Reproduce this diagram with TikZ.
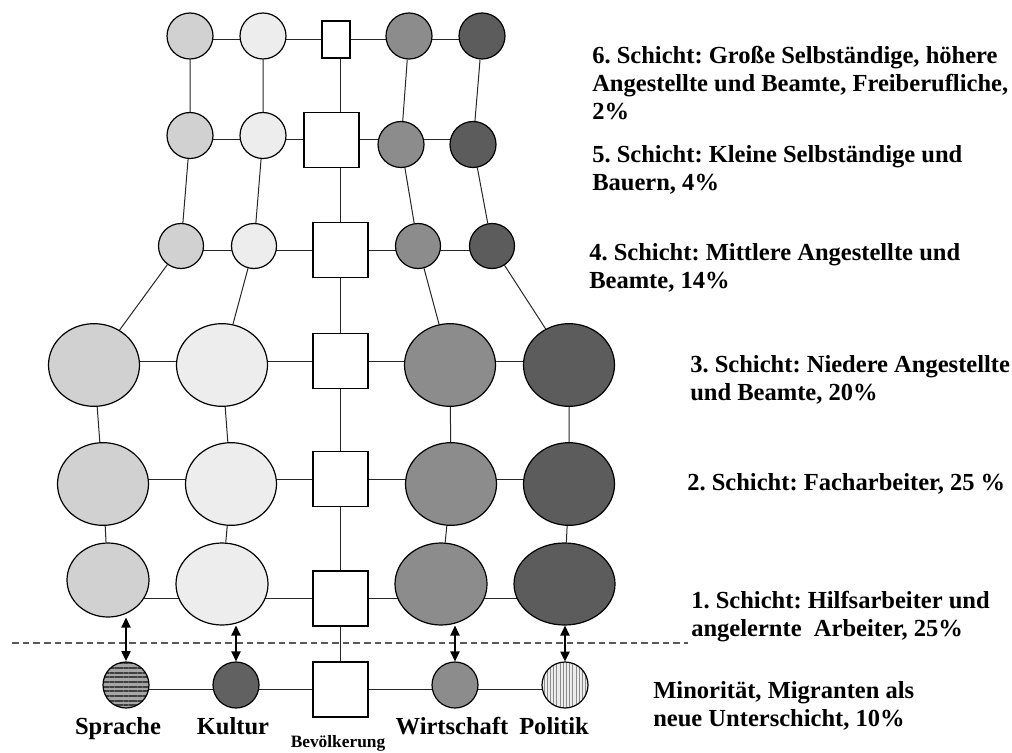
\documentclass[tikz,border=0pt]{standalone}
\usepackage{fontspec}
\setmainfont{Liberation Serif}
\usetikzlibrary{arrows.meta}
\usetikzlibrary{shapes.geometric}
\usetikzlibrary{patterns.meta}
\usetikzlibrary{backgrounds}
\frenchspacing

\definecolor{fillsp}{gray}{0.82}
\definecolor{fillku}{gray}{0.93}
\definecolor{fillwi}{gray}{0.55}
\definecolor{fillpo}{gray}{0.36}
\definecolor{linegray}{gray}{0.15}

\begin{document}
\begin{tikzpicture}[x=0.75pt, y=-0.75pt,
  ball/.style={circle, draw, line width=0.9pt, inner sep=0pt, minimum size=34.5pt},
  oval/.style={ellipse, draw, line width=0.9pt, inner sep=0pt, minimum width=68.25pt, minimum height=62pt},
  box/.style={rectangle, draw, line width=0.9pt, fill=white, inner sep=0pt, minimum size=41.25pt},
  schicht/.style={anchor=north west, inner sep=0pt, align=left, font=\fontsize{18.4}{21}\selectfont\bfseries},
  lbl/.style={anchor=base, inner sep=0pt, font=\fontsize{18.4}{21}\selectfont\bfseries},
  link/.style={draw=linegray, line width=0.75pt},
  twoway/.style={{Triangle[length=7.5pt,width=7pt]}-{Triangle[length=7.5pt,width=7pt]}, line width=1pt}
]
  \useasboundingbox (0,0) rectangle (1012,752);

  % 6. Schicht
  \node[ball, fill=fillsp] (sp6) at (190,36) {};
  \node[ball, fill=fillku] (ku6) at (263,36) {};
  \node[box, minimum width=21pt, minimum height=27.75pt] (bv6) at (336,39.5) {};
  \node[ball, fill=fillwi] (wi6) at (409,36) {};
  \node[ball, fill=fillpo] (po6) at (482,36) {};

  % 5. Schicht
  \node[ball, fill=fillsp] (sp5) at (190,135.5) {};
  \node[ball, fill=fillku] (ku5) at (263,135.5) {};
  \node[box] (bv5) at (331.5,140) {};
  \node[ball, fill=fillwi] (wi5) at (401,144.5) {};
  \node[ball, fill=fillpo] (po5) at (473,144.5) {};

  % 4. Schicht
  \node[ball, fill=fillsp, minimum size=33.75pt] (sp4) at (181,246) {};
  \node[ball, fill=fillku, minimum size=33.75pt] (ku4) at (254,246) {};
  \node[box] (bv4) at (340.5,250) {};
  \node[ball, fill=fillwi, minimum size=33.75pt] (wi4) at (418,246) {};
  \node[ball, fill=fillpo, minimum size=33.75pt] (po4) at (492,246) {};

  % 3. Schicht
  \node[oval, fill=fillsp] (sp3) at (94,365) {};
  \node[oval, fill=fillku] (ku3) at (222,365) {};
  \node[box] (bv3) at (340.5,361) {};
  \node[oval, fill=fillwi] (wi3) at (450,365) {};
  \node[oval, fill=fillpo] (po3) at (569,365) {};

  % 2. Schicht
  \node[oval, fill=fillsp] (sp2) at (103,484) {};
  \node[oval, fill=fillku] (ku2) at (231,484) {};
  \node[box] (bv2) at (340.5,479) {};
  \node[oval, fill=fillwi] (wi2) at (451,484) {};
  \node[oval, fill=fillpo] (po2) at (569,484) {};

  % 1. Schicht
  \node[oval, fill=fillsp, minimum width=61.5pt, minimum height=55.5pt] (sp1) at (108,580) {};
  \node[oval, fill=fillku, minimum width=69pt, minimum height=61.5pt] (ku1) at (222,584) {};
  \node[box] (bv1) at (340.5,598.5) {};
  \node[oval, fill=fillwi, minimum width=69pt, minimum height=61.5pt] (wi1) at (441,584) {};
  \node[oval, fill=fillpo, minimum width=75.75pt, minimum height=61.5pt] (po1) at (564.5,584) {};

  % Minoritaet
  \node[ball, preaction={fill=gray!70}, pattern={Lines[angle=0,distance=3.5pt,line width=1.5pt]}, pattern color=black!75] (sp0) at (126,685) {};
  \node[ball, fill=black!62] (ku0) at (236,685) {};
  \node[box] (bv0) at (340.5,689.5) {};
  \node[ball, fill=fillwi] (wi0) at (455,685) {};
  \node[ball, preaction={fill=gray!15}, pattern={Lines[angle=90,distance=2.4pt,line width=0.7pt]}, pattern color=gray!90] (po0) at (565,685) {};

  \node[lbl] (lsp) at (118,734) {Sprache};
  \node[lbl] (lku) at (233,734) {Kultur};
  \node[lbl, font=\fontsize{13}{15}\selectfont\bfseries] (lbv) at (338,747) {Bevölkerung};
  \node[lbl] (lwi) at (452,734) {Wirtschaft};
  \node[lbl] (lpo) at (554,734) {Politik};

  % Schichten
  \node[schicht] (t6) at (592,45.5) {6. Schicht: Große Selbständige, höhere\\Angestellte und Beamte, Freiberufliche,\\2\%};
  \node[schicht] (t5) at (592,145.5) {5. Schicht: Kleine Selbständige und\\Bauern, 4\%};
  \node[schicht] (t4) at (589,243.5) {4. Schicht: Mittlere Angestellte und\\Beamte, 14\%};
  \node[schicht] (t3) at (690,355.5) {3. Schicht: Niedere Angestellte\\und Beamte, 20\%};
  \node[schicht] (t2) at (687,473.5) {2. Schicht: Facharbeiter, 25 \%};
  \node[schicht] (t1) at (691,590.5) {1. Schicht: Hilfsarbeiter und\\angelernte~ Arbeiter, 25\%};
  \node[schicht] (tm) at (653,681.5) {Minorität, Migranten als\\neue Unterschicht, 10\%};

  \begin{scope}[on background layer]
    \draw[link] (sp6 |- bv6) -- (po6 |- bv6);
    \draw[link] (sp5 |- bv5) -- (po5 |- bv5);
    \draw[link] (sp4 |- bv4) -- (po4 |- bv4);
    \draw[link] (sp3 |- bv3) -- (po3 |- bv3);
    \draw[link] (sp2 |- bv2) -- (po2 |- bv2);
    \draw[link] (sp1 |- bv1) -- (po1 |- bv1);
    \draw[link] (sp0 |- bv0) -- (po0 |- bv0);
    \draw[link] (bv0) -- (bv0 |- bv6);
    \draw[link] (sp6) -- (sp5) -- (sp4) -- (sp3) -- (sp2) -- (sp1);
    \draw[link] (ku6) -- (ku5) -- (ku4) -- (ku3) -- (ku2) -- (ku1);
    \draw[link] (wi6) -- (wi5) -- (wi4) -- (wi3) -- (wi2) -- (wi1);
    \draw[link] (po6) -- (po5) -- (po4) -- (po3) -- (po2) -- (po1);
  \end{scope}

  \coordinate (dl) at (12,643);
  \coordinate (dr) at (688,643);
  \draw[black!65, line width=0.8pt, dash pattern=on 5pt off 3pt] (dl) -- (dr);

  \draw[twoway] (sp0) -- (sp0 |- sp1.south);
  \draw[twoway] (ku0) -- (ku0 |- ku1.south);
  \draw[twoway] (wi0) -- (wi0 |- wi1.south);
  \draw[twoway] (po0) -- (po0 |- po1.south);
\end{tikzpicture}
\end{document}
